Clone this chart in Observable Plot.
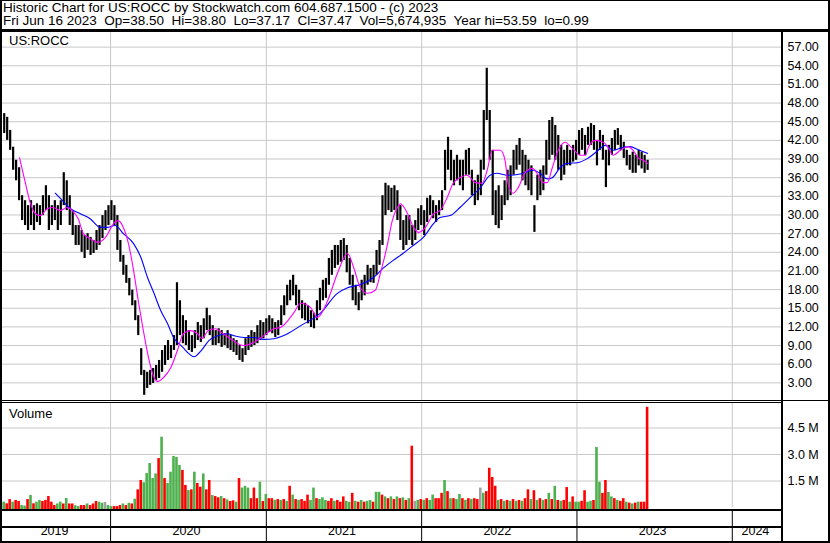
<!DOCTYPE html>
<html><head><meta charset="utf-8">
<script src="https://cdn.jsdelivr.net/npm/d3@7"></script>
<script src="https://cdn.jsdelivr.net/npm/@observablehq/plot@0.6"></script>
<style>
body{margin:0;background:#fff;}
#wrap{position:relative;width:830px;height:543px;background:#fff;overflow:hidden;font-family:Arial,"Liberation Sans",sans-serif;color:#000;}
.ln{position:absolute;background:#000;}
.abs{position:absolute;}
#title{position:absolute;left:3px;top:1px;font-size:13.5px;line-height:13.3px;white-space:pre;}
.lbl{position:absolute;font-size:13px;line-height:13px;white-space:pre;}
</style></head><body>
<div id="wrap">
  <div id="title"></div>
  <div id="price" class="abs" style="left:2px;top:32px"></div>
  <div id="vol" class="abs" style="left:2px;top:403px"></div>
  <div id="xband" class="abs" style="left:2px;top:511px"></div>
  <div class="lbl" id="sym" style="left:9px;top:34px"></div>
  <div class="lbl" id="vlab" style="left:9px;top:407px"></div>
  <div class="ln" style="left:0;top:0;width:830px;height:1px"></div>
  <div class="ln" style="left:0;top:0;width:2px;height:543px"></div>
  <div class="ln" style="left:828px;top:0;width:2px;height:543px"></div>
  <div class="ln" style="left:0;top:541px;width:830px;height:2px"></div>
  <div class="ln" style="left:0;top:29px;width:830px;height:3px"></div>
  <div class="ln" style="left:0;top:400px;width:830px;height:1px"></div>
  <div class="ln" style="left:0;top:402px;width:782px;height:1px"></div>
  <div class="ln" style="left:781px;top:32px;width:2px;height:510px"></div>
  <div class="ln" style="left:0;top:509px;width:782px;height:2px"></div>
  <div class="ln" style="left:0;top:526px;width:782px;height:2px"></div>
</div>
<script>
// ---------------- DATA ----------------
const titleLine1 = "Historic Chart for US:ROCC by Stockwatch.com 604.687.1500 - (c) 2023";
const titleLine2 = "Fri Jun 16 2023  Op=38.50  Hi=38.80  Lo=37.17  Cl=37.47  Vol=5,674,935  Year hi=53.59  lo=0.99";
const symbol = "US:ROCC";
const volumeLabel = "Volume";

// weekly bars (week ending Friday), 2019-04-26 .. 2023-06-16
const weekHigh = [
 46.3,45.7,43.6,40.9,38.8,37.6,33.1,32.3,31.5,32.3,
 31.5,31.8,31.5,33.1,34.7,33.1,31.5,32.3,31.5,32.3,
 36.8,35.5,33.1,30.7,28.3,28.3,27.5,26.7,27.0,26.4,
 25.9,27.5,28.3,29.9,30.7,31.5,32.3,31.5,29.9,25.9,
 23.5,21.9,19.8,17.9,16.2,13.8,8.5,5.0,4.7,5.0,
 5.3,5.8,6.6,8.2,9.0,9.8,9.0,10.6,19.1,16.2,
 13.8,13.0,11.4,10.6,11.4,12.7,12.2,13.3,15.0,13.8,
 12.2,11.4,11.7,11.4,10.9,11.4,10.6,10.1,9.8,9.0,
 8.5,10.1,10.6,11.4,11.1,12.2,13.0,12.7,13.3,13.8,
 13.3,12.7,13.0,15.4,17.0,18.7,19.5,20.3,18.7,17.9,
 16.2,15.8,15.4,14.6,14.2,16.2,18.2,19.5,19.8,23.0,
 24.3,25.1,25.1,25.9,26.2,25.1,23.0,20.3,18.7,17.5,
 19.5,20.3,21.9,21.4,21.9,24.3,25.9,33.1,35.1,34.7,
 34.3,34.7,33.9,31.5,29.1,29.9,29.9,28.3,29.1,31.0,
 31.5,30.7,32.7,33.1,32.3,31.5,32.3,33.9,40.4,42.5,
 40.4,38.8,39.6,38.8,38.8,40.4,40.7,37.2,35.5,36.4,
 38.8,46.8,53.6,46.8,40.4,33.9,34.7,33.1,35.5,37.2,
 37.9,40.4,41.2,42.3,40.4,39.6,38.8,37.9,31.5,36.4,
 37.2,37.9,42.0,45.2,45.7,44.4,42.8,41.2,40.4,41.2,
 40.4,41.2,42.0,43.6,43.9,42.8,44.1,44.7,44.4,42.0,
 43.6,42.8,40.4,41.2,42.3,43.6,43.9,42.8,41.7,40.4,
 39.6,40.1,39.6,40.4,40.1,39.6,38.8
];
const weekLow = [
 43.1,42.0,40.4,37.2,35.5,32.3,29.1,28.3,27.5,28.3,
 27.5,28.8,28.3,29.9,30.7,27.5,28.3,29.1,27.5,28.3,
 31.5,30.7,28.3,26.7,25.1,25.1,24.0,23.0,24.3,23.5,
 23.8,24.3,25.1,26.2,27.5,28.3,29.1,28.3,24.3,22.4,
 20.3,19.0,17.0,15.4,13.0,10.6,4.2,1.0,2.1,2.6,
 2.9,3.4,3.7,4.7,5.8,6.6,6.9,8.2,9.0,10.6,
 9.3,9.0,8.2,7.9,8.5,9.8,9.5,10.1,11.4,10.6,
 9.0,9.0,9.3,8.7,9.0,8.5,8.2,7.9,7.4,6.6,
 6.3,7.4,8.2,8.7,9.0,9.3,9.8,10.1,10.6,11.1,
 10.9,10.3,10.6,12.2,13.8,15.4,16.2,17.0,15.4,14.6,
 13.3,13.0,12.5,11.9,11.7,13.0,14.6,16.2,16.6,18.7,
 20.3,21.4,21.9,22.4,22.7,20.7,18.7,16.2,15.4,14.6,
 16.2,17.0,18.7,19.1,19.0,20.3,21.9,25.1,29.9,30.7,
 30.4,30.7,29.1,25.9,24.3,25.1,25.9,25.1,25.9,27.5,
 28.3,26.7,28.8,29.9,29.4,28.8,29.9,30.7,33.9,37.2,
 35.5,34.7,35.5,34.7,33.9,36.4,36.4,33.1,31.5,32.3,
 33.1,37.2,45.2,38.8,29.9,28.3,27.8,29.1,31.5,32.3,
 33.1,36.4,37.2,38.0,35.5,34.7,33.9,33.1,27.2,32.3,
 33.1,33.9,36.4,38.8,39.6,38.8,37.2,35.5,36.4,37.9,
 37.9,38.5,38.8,39.6,40.4,39.6,41.2,41.2,40.4,37.9,
 40.4,38.8,34.4,37.9,39.6,40.4,41.2,40.4,39.1,37.9,
 37.2,36.7,36.7,37.9,37.4,36.7,37.17
];
// weekly volume, millions of shares
const weekVolume = [
 0.3,0.21,0.45,0.3,0.4,0.34,0.11,0.08,0.45,0.68,
 0.21,0.3,0.4,0.34,0.4,0.62,0.3,0.11,0.2,0.3,
 0.2,0.51,0.2,0.2,0.1,0.05,0.11,0.11,0.2,0.11,
 0.2,0.34,0.3,0.24,0.28,0.11,0.05,0.05,0.05,0.11,
 0.2,0.11,0.24,0.2,0.47,1.0,1.53,1.4,1.92,2.49,
 1.64,1.9,2.77,3.98,1.64,1.36,2.0,2.89,2.83,2.38,
 2.1,1.25,0.96,1.0,2.0,1.36,1.15,1.9,1.0,1.53,
 0.68,0.62,0.55,0.62,0.5,0.43,0.34,0.38,0.3,1.64,
 1.1,1.2,1.1,0.5,1.1,0.5,1.43,0.34,0.74,0.5,
 0.5,0.4,0.45,0.4,0.45,0.35,1.2,0.7,0.45,0.4,
 0.45,0.35,0.7,0.4,1.1,0.5,0.45,0.55,0.4,0.35,
 0.5,0.35,0.4,0.3,0.6,0.35,0.3,0.8,0.35,0.3,
 0.4,0.3,0.35,0.4,0.3,0.86,0.86,0.7,0.6,0.5,
 0.6,0.45,0.6,0.5,0.55,0.4,0.5,3.47,0.35,0.4,
 0.45,0.4,0.5,0.4,0.7,0.5,0.5,0.8,1.53,0.9,
 0.5,0.5,0.45,0.74,0.5,0.4,0.5,0.45,0.5,0.45,
 1.1,0.8,0.9,2.22,1.7,1.2,0.4,0.45,0.35,0.4,
 0.35,0.45,0.35,0.4,0.35,0.5,1.0,0.45,0.95,0.4,
 0.5,0.4,0.45,0.8,0.45,1.2,0.4,0.35,0.4,1.13,
 0.3,0.6,0.3,0.3,0.35,0.95,0.3,0.35,0.4,3.4,
 1.43,0.8,1.53,0.85,0.6,0.5,0.4,0.35,0.5,0.3,
 0.25,0.2,0.25,0.3,0.3,0.3,5.67
];
// r = down (red), g = up (green), a = unchanged (grey)
const weekVolColor = (
 "grrgrrggrg" + "rggrrrrrgg" + "rgrrggrrgr" + "rrggaggrrr" +
 "grgrgrrggg" + "ggrgrggggg" + "rrgrgrrgrr" + "grrgrgrrgr" +
 "gggrrrgrgr" + "rgrgrgrgrg" + "rrrggrgggr" + "rgrrrggrgr" +
 "grggrggrgr" + "grgrgrgrag" + "rgrggrrrgr" + "grggrgrgrr" +
 "agrrrrgrgr" + "grgrgrrgrg" + "rgrgrgrgrr" + "grggrrggrg" +
 "grrggrgrrg" + "rgrgrrr").split("");

// 50-day style moving average (magenta)
const maFastDates = ["2019-06-01","2019-06-15","2019-06-27","2019-07-08","2019-07-20","2019-08-05","2019-08-19","2019-09-05","2019-09-21","2019-10-03",
 "2019-10-17","2019-10-29","2019-11-14","2019-12-03","2019-12-20","2020-01-08","2020-01-19","2020-01-31","2020-02-12","2020-02-24",
 "2020-03-07","2020-03-18","2020-03-30","2020-04-12","2020-04-21","2020-05-05","2020-05-22","2020-06-06","2020-06-20","2020-07-07",
 "2020-07-23","2020-08-03","2020-08-17","2020-09-03","2020-09-22","2020-10-15","2020-11-08","2020-12-02","2020-12-26","2021-01-19",
 "2021-02-03","2021-03-06","2021-03-23","2021-04-15","2021-05-01","2021-05-25","2021-06-17","2021-07-11","2021-07-25","2021-08-10",
 "2021-08-27","2021-09-14","2021-09-26","2021-10-13","2021-10-24","2021-11-05","2021-11-12","2021-11-29","2021-12-13","2021-12-25",
 "2022-01-10","2022-01-29","2022-02-13","2022-03-02","2022-03-16","2022-04-01","2022-04-18","2022-05-07","2022-05-23","2022-06-04",
 "2022-06-16","2022-07-05","2022-07-16","2022-07-23","2022-08-04","2022-08-16","2022-09-01","2022-09-18","2022-10-02","2022-10-14",
 "2022-10-23","2022-11-04","2022-11-18","2022-12-04","2022-12-21","2023-01-09","2023-01-21","2023-01-28","2023-02-13","2023-03-04",
 "2023-03-15","2023-03-27","2023-04-13","2023-05-01","2023-05-13","2023-05-25","2023-06-06","2023-06-16"];
const maFastValues = [39.2,35.1,31.8,30.2,29.9,31.0,31.2,30.7,31.2,30.7,
 29.4,27.0,26.2,25.6,26.4,28.6,29.1,28.0,25.4,21.1,
 15.8,11.4,7.1,3.9,3.2,3.9,5.5,8.2,10.9,11.4,
 10.9,10.1,11.4,11.7,10.9,9.8,9.0,9.5,10.6,11.7,
 11.9,14.2,15.8,15.1,13.5,16.2,20.6,23.8,21.6,18.3,
 17.4,17.9,20.6,25.4,29.1,31.2,31.8,30.2,28.0,27.2,
 28.0,30.2,30.7,32.8,35.1,36.0,36.4,35.2,35.1,37.2,
 40.4,40.4,38.8,35.1,33.5,34.4,36.8,37.5,36.4,35.2,
 35.2,37.6,40.4,41.7,40.7,39.6,39.6,40.9,42.0,41.7,
 40.9,39.6,40.4,41.0,40.4,39.2,38.8,38.3];

// 100-day style moving average (blue)
const maSlowDates = ["2019-08-24","2019-09-10","2019-09-29","2019-10-22","2019-11-14","2019-12-08","2019-12-24","2020-01-12","2020-01-31","2020-02-24",
 "2020-03-12","2020-03-28","2020-04-12","2020-04-28","2020-05-14","2020-05-28","2020-06-19","2020-07-03","2020-07-15","2020-08-01",
 "2020-08-19","2020-09-10","2020-10-02","2020-10-16","2020-11-09","2020-12-02","2020-12-26","2021-01-19","2021-02-11","2021-03-23",
 "2021-05-08","2021-06-17","2021-07-11","2021-08-10","2021-09-09","2021-10-02","2021-10-26","2021-11-18","2021-12-12","2022-01-05",
 "2022-01-29","2022-02-13","2022-03-09","2022-04-01","2022-04-25","2022-05-18","2022-06-11","2022-06-27","2022-07-21","2022-08-21",
 "2022-09-20","2022-10-06","2022-10-23","2022-11-04","2022-11-22","2022-12-09","2023-01-02","2023-01-26","2023-02-13","2023-03-09",
 "2023-03-27","2023-04-19","2023-05-06","2023-05-25","2023-06-16"];
const maSlowValues = [33.5,32.3,31.0,30.2,29.4,28.0,28.0,28.3,27.0,25.4,
 23.2,19.9,17.4,14.6,12.5,10.3,8.7,7.7,7.2,8.2,
 9.8,10.6,10.9,10.6,10.3,10.3,10.0,10.1,10.6,12.2,
 14.2,17.4,18.3,18.8,19.9,21.4,22.7,23.8,25.1,26.4,
 28.6,29.6,29.9,31.2,32.8,34.3,36.4,36.7,36.4,36.6,
 37.2,36.7,35.8,36.0,37.6,38.3,38.4,39.1,40.0,41.2,
 40.4,40.9,41.0,40.5,39.9];

const priceTicks = [3,6,9,12,15,18,21,24,27,30,33,36,39,42,45,48,51,54,57];
const volumeTicks = [1.5,3.0,4.5];
const years = [2019,2020,2021,2022,2023,2024];
const xDomain = [new Date("2019-04-22"), new Date("2024-04-28")];
const priceDomain = [0, 59.35];
const volumeDomain = [0, 5.887];

// ---------------- BUILD ----------------
document.getElementById("title").textContent = titleLine1 + "\n" + titleLine2;
document.getElementById("sym").textContent = symbol;
document.getElementById("vlab").textContent = volumeLabel;

const weekDates = d3.utcFriday.range(new Date("2019-04-26"), new Date("2023-06-17"));
const weeks = weekDates.map((d, i) => ({
  date: d, hi: weekHigh[i], lo: weekLow[i], vol: weekVolume[i], c: weekVolColor[i]
}));
const fast = maFastDates.map((d, i) => ({date: new Date(d), v: maFastValues[i]}));
const slow = maSlowDates.map((d, i) => ({date: new Date(d), v: maSlowValues[i]}));
const yearStarts = years.slice(1).map(y => new Date(Date.UTC(y, 0, 1)));
const yearMids = years.map(y => {
  const a = Math.max(+new Date(Date.UTC(y, 0, 1)), +xDomain[0]);
  const b = Math.min(+new Date(Date.UTC(y + 1, 0, 1)), +xDomain[1]);
  return {year: String(y), date: new Date((a + b) / 2)};
});
const grid = "#c8c8c8";
const font = "Arial, 'Liberation Sans', sans-serif";
const colorMap = {r: "#ff0000", g: "#4cb04c", a: "#a0a0a0"};

const pricePlot = Plot.plot({
  width: 826, height: 369,
  marginLeft: 0, marginRight: 46, marginTop: 0, marginBottom: 0,
  style: {fontFamily: font, fontSize: "12.5px", color: "#000", background: "transparent", overflow: "visible"},
  x: {type: "utc", domain: xDomain, axis: null},
  y: {domain: priceDomain, axis: null},
  marks: [
    Plot.ruleY(priceTicks, {stroke: grid, strokeWidth: 1}),
    Plot.ruleX(yearStarts, {stroke: grid, strokeWidth: 1}),
    Plot.ruleX(weeks, {x: "date", y1: "lo", y2: "hi", stroke: "#000", strokeWidth: 2.2}),
    Plot.line(slow, {x: "date", y: "v", stroke: "#0000ff", strokeWidth: 1.1, curve: "monotone-x"}),
    Plot.line(fast, {x: "date", y: "v", stroke: "#ff00ff", strokeWidth: 1.1, curve: "monotone-x"}),
    Plot.axisY(priceTicks, {anchor: "right", tickSize: 0, tickPadding: 5, tickFormat: d => d.toFixed(2), label: null, fill: "#000"})
  ]
});
document.getElementById("price").appendChild(pricePlot);

const volPlot = Plot.plot({
  width: 826, height: 107,
  marginLeft: 0, marginRight: 46, marginTop: 0, marginBottom: 3,
  style: {fontFamily: font, fontSize: "12.5px", color: "#000", background: "transparent", overflow: "visible"},
  x: {type: "utc", domain: xDomain, axis: null},
  y: {domain: volumeDomain, axis: null},
  marks: [
    Plot.ruleY(volumeTicks, {stroke: grid, strokeWidth: 1}),
    Plot.ruleX(yearStarts, {stroke: grid, strokeWidth: 1}),
    Plot.rectY(weeks, {
      x1: d => d3.utcHour.offset(d.date, -84), x2: d => d3.utcHour.offset(d.date, 84),
      y: "vol", fill: d => colorMap[d.c], insetBottom: -3, insetLeft: 0.2, insetRight: 0.2
    }),
    Plot.axisY(volumeTicks, {anchor: "right", tickSize: 0, tickPadding: 5, tickFormat: d => d.toFixed(1) + " M", label: null, fill: "#000"})
  ]
});
document.getElementById("vol").appendChild(volPlot);

const bandPlot = Plot.plot({
  width: 826, height: 31,
  marginLeft: 0, marginRight: 46, marginTop: 0, marginBottom: 0,
  style: {fontFamily: font, fontSize: "12.5px", color: "#000", background: "transparent", overflow: "visible"},
  x: {type: "utc", domain: xDomain, axis: null},
  marks: [
    Plot.ruleX(yearStarts, {stroke: "#000", strokeWidth: 1}),
    Plot.text(yearMids, {x: "date", text: "year", frameAnchor: "bottom", dy: -8, dx: -2, fill: "#000", fontSize: 12.5})
  ]
});
document.getElementById("xband").appendChild(bandPlot);
</script>
</body></html>
